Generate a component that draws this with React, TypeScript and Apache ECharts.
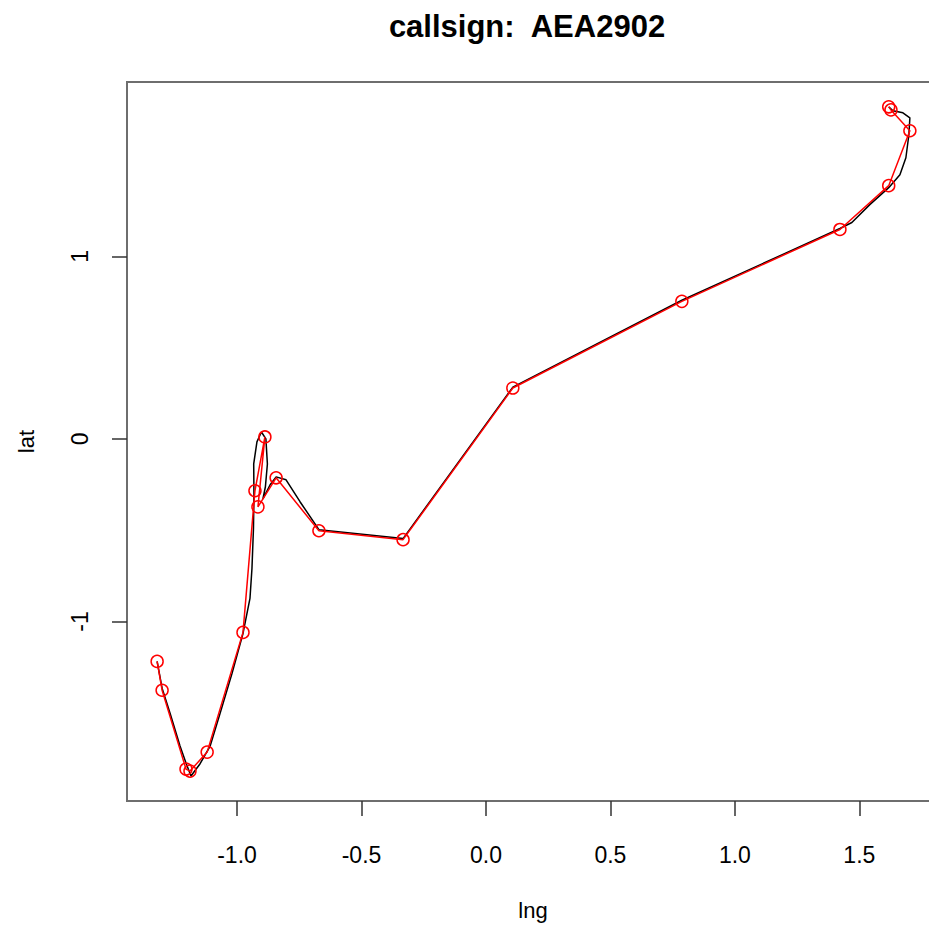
import React, { useEffect, useRef } from "react";
import * as echarts from "echarts";

const titleText = "callsign:  AEA2902";
const xTicks = [-1, -0.5, 0, 0.5, 1, 1.5];
const yTicks = [-1, 0, 1];

// smoothed track (black)
const trackLng = [
  -1.321, -1.301, -1.269, -1.229, -1.205, -1.185, -1.149, -1.108, -1.068, -1.02,
  -0.976, -0.948, -0.94, -0.934, -0.932, -0.933, -0.92, -0.902, -0.884, -0.878,
  -0.886, -0.896, -0.867, -0.843, -0.803, -0.747, -0.671, -0.333, 0.108, 0.787,
  1.422, 1.47, 1.542, 1.618, 1.663, 1.687, 1.699, 1.703, 1.675, 1.635, 1.618,
];
const trackLat = [
  -1.219, -1.366, -1.503, -1.683, -1.776, -1.847, -1.781, -1.683, -1.503, -1.284,
  -1.066, -0.874, -0.71, -0.492, -0.301, -0.137, -0.016, 0.038, 0.0, -0.137,
  -0.262, -0.328, -0.251, -0.208, -0.224, -0.344, -0.497, -0.546, 0.284, 0.76,
  1.153, 1.186, 1.284, 1.377, 1.448, 1.541, 1.667, 1.76, 1.787, 1.798, 1.82,
];

// observed points (red)
const obsLng = [
  -1.321, -1.301, -1.205, -1.189, -1.12, -0.976, -0.928, -0.888, -0.916, -0.843,
  -0.671, -0.333, 0.108, 0.787, 1.422, 1.618, 1.703, 1.627, 1.618,
];
const obsLat = [
  -1.219, -1.377, -1.809, -1.82, -1.716, -1.06, -0.284, 0.011, -0.372, -0.213,
  -0.503, -0.552, 0.279, 0.754, 1.148, 1.388, 1.689, 1.803, 1.82,
];

const FONT = "'Liberation Sans', Arial, Helvetica, sans-serif";

export default function App() {
  const ref = useRef<HTMLDivElement>(null);
  useEffect(() => {
    if (!ref.current) return;
    const chart = echarts.init(ref.current, null, { renderer: "svg" });
    const track = trackLng.map((x, i) => [x, trackLat[i]]);
    const obs = obsLng.map((x, i) => [x, obsLat[i]]);
    chart.setOption({
      animation: false,
      backgroundColor: "#ffffff",
      textStyle: { fontFamily: FONT },
      graphic: [
        {
          type: "text",
          x: 527,
          y: 26,
          style: {
            text: titleText,
            fontFamily: FONT,
            fontWeight: "bold",
            fontSize: 31,
            fill: "#000",
            textAlign: "center",
            textVerticalAlign: "middle",
          },
        },
      ],
      grid: {
        left: 127,
        top: 82,
        bottom: 123,
        right: 21,
        show: true,
        borderColor: "#6e6e6e",
        borderWidth: 2,
        backgroundColor: "transparent",
      },
      xAxis: {
        type: "value",
        min: -1.442,
        max: 1.82,
        name: "lng",
        nameLocation: "middle",
        nameGap: 98,
        nameTextStyle: { fontSize: 22, color: "#000", fontFamily: FONT },
        axisLine: { show: true, onZero: false, lineStyle: { color: "#6e6e6e", width: 2 } },
        axisTick: {
          show: true,
          inside: false,
          length: 15,
          customValues: xTicks,
          lineStyle: { color: "#333", width: 1.5 },
        },
        axisLabel: {
          customValues: xTicks,
          formatter: (v: number) => v.toFixed(1),
          margin: 42,
          fontSize: 23,
          color: "#000",
          fontFamily: FONT,
        },
        splitLine: { show: false },
      },
      yAxis: {
        type: "value",
        min: -1.984,
        max: 1.956,
        name: "lat",
        nameLocation: "middle",
        nameGap: 90,
        nameTextStyle: { fontSize: 22, color: "#000", fontFamily: FONT },
        axisLine: { show: true, onZero: false, lineStyle: { color: "#6e6e6e", width: 2 } },
        axisTick: {
          show: true,
          inside: false,
          length: 15,
          customValues: yTicks,
          lineStyle: { color: "#333", width: 1.5 },
        },
        axisLabel: {
          customValues: yTicks,
          formatter: (v: number) => String(v),
          rotate: 90,
          margin: 36,
          fontSize: 23,
          color: "#000",
          fontFamily: FONT,
        },
        splitLine: { show: false },
      },
      series: [
        {
          type: "line",
          data: track,
          showSymbol: false,
          symbol: "none",
          lineStyle: { color: "#000", width: 1.5 },
          itemStyle: { color: "#000" },
          z: 2,
        },
        {
          type: "line",
          data: obs,
          symbol: "circle",
          symbolSize: 12,
          lineStyle: { color: "#ff0000", width: 1.5 },
          itemStyle: { color: "transparent", borderColor: "#ff0000", borderWidth: 1.5 },
          z: 3,
        },
      ],
    });
    return () => chart.dispose();
  }, []);
  return (
    <div
      ref={ref}
      style={{ position: "fixed", left: 0, top: 0, width: 960, height: 926 }}
    />
  );
}
